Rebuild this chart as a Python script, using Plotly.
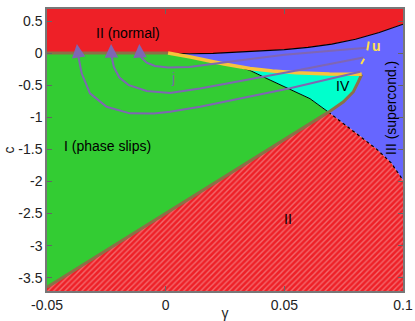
import plotly.graph_objects as go

# ---------------- data ----------------
# upper boundary of region III (red "normal" region above it)
top_g = [0.0, 0.01, 0.02, 0.03, 0.04, 0.05, 0.06, 0.07, 0.08, 0.09, 0.1]
top_c = [0.0, -0.01, -0.005, 0.012, 0.03, 0.055, 0.09, 0.14, 0.215, 0.32, 0.45]

# yellow line (from origin to the tip of region IV)
yel_g = [0.001, 0.0105, 0.0246, 0.03, 0.0355, 0.045, 0.055, 0.069, 0.0826]
yel_c = [0.0, -0.06, -0.17, -0.205, -0.24, -0.28, -0.305, -0.325, -0.33]

# black line between I and IV
blk_g = [0.03, 0.0355, 0.044, 0.0524, 0.0608, 0.0686]
blk_c = [-0.205, -0.27, -0.42, -0.56, -0.71, -0.92]

# brown boundary of IV (from bottom point to tip)
brn_g = [0.0686, 0.0749, 0.0791, 0.0812, 0.0823, 0.0826]
brn_c = [-0.92, -0.758, -0.602, -0.446, -0.36, -0.33]

# straight brown line I / lower II
low_g = [-0.05, 0.0686]
low_c = [-3.65, -0.92]

# brown line on c = 0
zero_g = [-0.05, 0.001]
zero_c = [0.0, 0.0]

# dotted boundary lower II / III
dot_g = [0.0686, 0.079, 0.089, 0.095, 0.1]
dot_c = [-0.92, -1.21, -1.5, -1.71, -1.98]

# purple trajectories j (from arrow base to right end)
ja_g = [-0.0109, -0.0100, -0.0080, -0.0045, 0.001, 0.01, 0.03, 0.05, 0.0847]
ja_c = [0.0, -0.08, -0.15, -0.2, -0.225, -0.215, -0.12, -0.025, 0.085]
jb_g = [-0.0229, -0.0228, -0.0218, -0.0195, -0.0155, -0.008, 0.0018, 0.0145, 0.0524, 0.0833]
jb_c = [0.0, -0.05, -0.22, -0.38, -0.5, -0.59, -0.62, -0.55, -0.29, -0.07]
jc_g = [-0.0369, -0.0368, -0.0354, -0.0319, -0.0249, -0.0151, -0.005, 0.0018, 0.0145, 0.0524, 0.0819]
jc_c = [0.0, -0.05, -0.315, -0.627, -0.836, -0.939, -0.94, -0.914, -0.836, -0.549, -0.29]
tip_g = [-0.0111, -0.0230, -0.0374]
tip_c = [0.14, 0.14, 0.14]
tip_base_g = [-0.0109, -0.0229, -0.0369]
tip_base_c = [0.0, 0.0, 0.0]

# yellow dashed "u" arrow
u_g = [0.0856, 0.0850, 0.0838, 0.0824]
u_c = [0.18, 0.05, -0.08, -0.17]
u_tip = (0.0816, -0.23)

X_RANGE = [-0.05, 0.1]
Y_RANGE = [-3.707, 0.687]
x_ticks = [-0.05, 0, 0.05, 0.1]
x_ticktext = ["-0.05", "0", "0.05", "0.1"]
y_ticks = [0.5, 0, -0.5, -1, -1.5, -2, -2.5, -3, -3.5]
y_ticktext = ["0.5", "0", "-0.5", "-1", "-1.5", "-2", "-2.5", "-3", "-3.5"]

# ---------------- styles ----------------
RED = "#EE2027"
GREEN = "#33CC33"
BLUE = "#6666FF"
CYAN = "#00FFCC"
YELLOW = "#F9C23C"
BROWN = "#8C7047"
PURPLE = "#7F66B3"
UYEL = "#FFE14D"
FONT = "Liberation Sans, Arial, Helvetica, sans-serif"

fig = go.Figure()


def poly(xs, ys, color, **kw):
    fig.add_trace(go.Scatter(x=xs, y=ys, mode="lines", fill="toself",
                             fillcolor=color, line=dict(width=0),
                             hoverinfo="skip", showlegend=False, **kw))


def line(xs, ys, color, width, dash="solid"):
    fig.add_trace(go.Scatter(x=xs, y=ys, mode="lines",
                             line=dict(color=color, width=width, dash=dash),
                             hoverinfo="skip", showlegend=False))


TOPY = 1.0
BOTY = -4.0

# red (normal) upper region
poly([X_RANGE[0]] + top_g + [X_RANGE[1], X_RANGE[0]],
     [0.0] + top_c + [TOPY, TOPY], RED)

# blue region III
bx = top_g + dot_g[::-1] + brn_g[1:] + yel_g[::-1][1:]
by = top_c + dot_c[::-1] + brn_c[1:] + yel_c[::-1][1:]
poly(bx, by, BLUE)

# green region I
k = yel_g.index(0.03)
gx = [X_RANGE[0]] + yel_g[:k + 1] + blk_g[1:] + [low_g[0]]
gy = [0.0] + yel_c[:k + 1] + blk_c[1:] + [low_c[0]]
poly(gx, gy, GREEN)

# cyan region IV
cx = yel_g[k:] + brn_g[::-1][1:] + blk_g[::-1][1:]
cy = yel_c[k:] + brn_c[::-1][1:] + blk_c[::-1][1:]
poly(cx, cy, CYAN)

# hatched lower II
hx = [low_g[0], low_g[1]] + dot_g[1:] + [X_RANGE[1], X_RANGE[0]]
hy = [low_c[0], low_c[1]] + dot_c[1:] + [BOTY, BOTY]
fig.add_trace(go.Scatter(x=hx, y=hy, mode="lines", fill="toself",
                         fillcolor=RED, line=dict(width=0),
                         fillpattern=dict(shape="/", bgcolor=RED,
                                          fgcolor="#F7B4B4", size=4,
                                          solidity=0.35),
                         hoverinfo="skip", showlegend=False))

# boundary lines
line(top_g, top_c, "black", 1.2)
line(blk_g, blk_c, "black", 1.0)
line(dot_g, dot_c, "black", 1.2, "dot")
line(zero_g, zero_c, BROWN, 3)
line(low_g + brn_g[1:], low_c + brn_c[1:], BROWN, 3)
line(yel_g, yel_c, YELLOW, 3.5)

# purple trajectories
for gg, cc in [(ja_g, ja_c), (jb_g, jb_c), (jc_g, jc_c)]:
    line(gg, cc, PURPLE, 2)

# dashed u arrow
line(u_g, u_c, UYEL, 2, "dash")

annotations = []
for tg, tc, bg, bc in zip(tip_g, tip_c, tip_base_g, tip_base_c):
    annotations.append(dict(x=tg, y=tc, ax=bg, ay=bc, xref="x", yref="y",
                            axref="x", ayref="y", showarrow=True, text="",
                            arrowhead=2, arrowsize=1.35, arrowwidth=2,
                            arrowcolor=PURPLE))
annotations.append(dict(x=u_tip[0], y=u_tip[1], ax=u_g[-1], ay=u_c[-1],
                        xref="x", yref="y", axref="x", ayref="y",
                        showarrow=True, text="", arrowhead=2, arrowsize=1.2,
                        arrowwidth=2, arrowcolor=UYEL))


def label(x, y, t, color="black", size=14, angle=0, bold=False):
    if bold:
        t = "<b>" + t + "</b>"
    annotations.append(dict(x=x, y=y, xref="x", yref="y", text=t,
                            showarrow=False, textangle=angle,
                            font=dict(family=FONT, size=size, color=color)))


label(-0.0159, 0.31, "II (normal)")
label(-0.0243, -1.45, "I (phase slips)")
label(0.0749, -0.51, "IV")
label(0.0952, -0.86, "III (supercond.)", angle=-90)
label(0.0516, -2.59, "II")
label(0.003, -0.39, "j", color="#7A6AA6")
label(0.0888, 0.115, "u", color=UYEL, bold=True)

fig.update_layout(
    width=415, height=321,
    margin=dict(l=47, r=12, t=9, b=30, autoexpand=False),
    paper_bgcolor="white", plot_bgcolor="white",
    font=dict(family=FONT, size=14, color="#222222"),
    annotations=annotations,
    showlegend=False,
)
axis_common = dict(showgrid=False, zeroline=False, ticks="inside", ticklen=5,
                   tickcolor="#666666", showline=True, linecolor="#777777",
                   linewidth=1.5, mirror="ticks", automargin=False,
                   tickfont=dict(family=FONT, size=14, color="#222222"))
fig.update_xaxes(range=X_RANGE, tickvals=x_ticks, ticktext=x_ticktext,
                 title=dict(text="γ", font=dict(family=FONT, size=14),
                            standoff=0), **axis_common)
fig.update_yaxes(range=Y_RANGE, tickvals=y_ticks, ticktext=y_ticktext,
                 title=dict(text="c", font=dict(family=FONT, size=14),
                            standoff=0), **axis_common)

fig.write_html("out.html", config={"displayModeBar": False},
               post_script="document.body.style.margin='0';"
                           "document.body.style.padding='0';")
